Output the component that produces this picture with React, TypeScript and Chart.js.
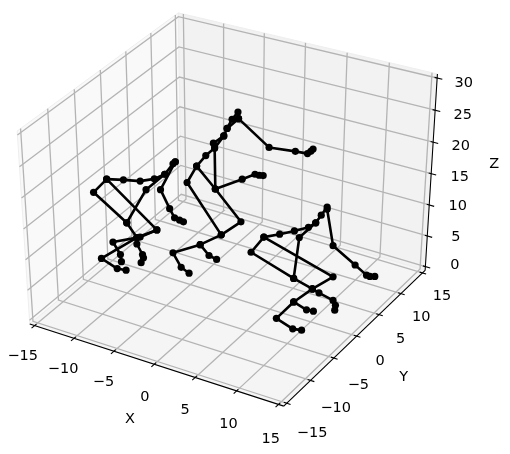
import React, { useEffect, useRef } from "react";
import { Chart, registerables } from "chart.js";

Chart.register(...registerables);

const xyTicks = [-15, -10, -5, 0, 5, 10, 15];
const zTicks = [0, 5, 10, 15, 20, 25, 30];
const xyLabels = ["\u221215", "\u221210", "\u22125", "0", "5", "10", "15"];
const zLabels = ["0", "5", "10", "15", "20", "25", "30"];

// Where each tick label's centre sits.
const xLabelSpots = [[19, 359], [60, 372], [101, 385], [143, 400], [184, 414], [228, 428], [271, 443]];
const yLabelSpots = [[313, 437], [337, 411], [360, 388], [382, 364], [403, 341], [424, 319], [445, 297]];
const zLabelSpots = [[458, 266], [459, 237], [461, 206], [463, 176], [464, 145], [466, 113], [467, 81]];

// Each skeleton is a list of polylines in the projected plane.
const skeletonA: number[][][] = [
  [[104.3, 178.3], [121.3, 179], [138.3, 180.3], [152.7, 178], [163.3, 173.3], [171.7, 162.7], [174, 160.7]],
  [[174, 160.7], [159, 189], [168.3, 208.3], [173.3, 217.7], [178.3, 220], [182.3, 221.7]],
  [[163.3, 173.3], [144.3, 189], [124.7, 222.7], [91, 191.7], [104.3, 178.3], [155.3, 230], [135, 237.7]],
  [[124.7, 222.7], [135, 237.7], [99, 259], [115, 269.3], [124, 271]],
  [[155.3, 230], [138.3, 237.3], [110.7, 242.3], [118.3, 255], [119.3, 262.3]],
  [[135, 237.7], [135, 244.3], [140.7, 255], [141.7, 258.3], [139.3, 263.3]],
];
const skeletonB: number[][][] = [
  [[195.7, 165], [205, 154.3], [214, 146.7], [223.3, 134.3], [226.7, 126.7], [231.7, 117.3], [237.7, 110]],
  [[212.7, 141.7], [223.3, 134.3]],
  [[238.3, 116.7], [226.7, 126.7]],
  [[238.3, 116.7], [269.3, 146], [296, 150], [308.3, 152.3], [311.7, 150], [314, 147.7]],
  [[214, 146.7], [214.7, 188.3], [242, 178.3], [255, 173.3], [259.3, 174.3], [263.3, 174.7]],
  [[214.7, 188.3], [195.7, 165], [186, 181.7], [220.7, 235], [240.7, 221.7], [214.7, 188.3]],
  [[220.7, 235], [199.3, 245], [171.7, 253.3], [180, 268], [188, 274]],
  [[199.3, 245], [208.3, 256], [216, 260]],
];
const skeletonC: number[][][] = [
  [[264, 237.3], [280, 234.3], [295, 231], [309.3, 227.3], [316.7, 222.7], [322.3, 215], [328.3, 206.7]],
  [[328.3, 209], [334.3, 246], [356.7, 265.7], [368.3, 276], [371.7, 277.3], [376.7, 277.3]],
  [[316.7, 222.7], [300, 237.7], [294.3, 279.3], [251, 252.7], [264, 237.3], [334.3, 277.7], [313.3, 290]],
  [[294.3, 279.3], [313.3, 290], [294.3, 303.3], [276.7, 320], [293.3, 330.7], [302.3, 332]],
  [[294.3, 303.3], [307.3, 311.3], [314.3, 312.7]],
  [[313.3, 290], [320, 294], [334.3, 301.7], [336.7, 306.7], [336, 311.7]],
];

const titleX = { text: "X", x: 128, y: 423 };
const titleY = { text: "Y", x: 406, y: 380 };
const titleZ = { text: "Z", x: 498, y: 163 };

const L = 15.625;
const ZLO = -0.625;
const ZHI = 30.625;
const DIST = 14;
const ELEV = 30;
const AZIM = -59.5;
const FLARE = 0.028;
const BACK_LIFT = 0.026;

function rawProject(x: number, y: number, z: number): [number, number] {
  const n = 1.8294640721620434 / Math.sqrt(41);
  const b = [4 * n, 4 * n, 3 * n];
  const p = [((x + 15) / 30) * b[0], ((y + 15) / 30) * b[1], (z / 30) * b[2]];
  const el = (ELEV * Math.PI) / 180;
  const az = (AZIM * Math.PI) / 180;
  const w = [Math.cos(el) * Math.cos(az), Math.cos(el) * Math.sin(az), Math.sin(el)];
  const eye = [b[0] / 2 + DIST * w[0], b[1] / 2 + DIST * w[1], b[2] / 2 + DIST * w[2]];
  const ul = Math.hypot(w[0], w[1]);
  const u = [-w[1] / ul, w[0] / ul, 0];
  const v = [w[1] * u[2] - w[2] * u[1], w[2] * u[0] - w[0] * u[2], w[0] * u[1] - w[1] * u[0]];
  const d = [p[0] - eye[0], p[1] - eye[1], p[2] - eye[2]];
  const dot = (a: number[], c: number[]) => a[0] * c[0] + a[1] * c[1] + a[2] * c[2];
  const depth = -dot(w, d);
  return [dot(u, d) / depth, dot(v, d) / depth];
}

const leftC = rawProject(-L, -L, ZLO);
const rightC = rawProject(L, L, ZLO);
const topC = rawProject(-L, L, ZHI);
const frontC = rawProject(L, -L, ZLO);
const ax = (430.8 - 23.2) / (rightC[0] - leftC[0]);
const bx = 23.2 - ax * leftC[0];
const ay = (409.3 - 9) / (frontC[1] - topC[1]);
const by = 9 - ay * topC[1];
const CX = 227;
const BACK_X = 180;

function P(x: number, y: number, z: number) {
  const r = rawProject(x, y, z);
  const px = ax * r[0] + bx;
  const py = ay * r[1] + by;
  return {
    x: px + (FLARE * (px - CX) * (z - 15)) / 30,
    y: py - (BACK_LIFT * Math.max(px - BACK_X, 0) * z) / 30,
  };
}

const panes = [
  { pts: [P(-L, -L, ZLO), P(-L, L, ZLO), P(-L, L, ZHI), P(-L, -L, ZHI)], fill: "#f9f9f9" },
  { pts: [P(-L, L, ZLO), P(L, L, ZLO), P(L, L, ZHI), P(-L, L, ZHI)], fill: "#f2f2f2" },
  { pts: [P(-L, -L, ZLO), P(L, -L, ZLO), P(L, L, ZLO), P(-L, L, ZLO)], fill: "#f5f5f5" },
];

function gridLines() {
  const out: { x: number; y: number }[][] = [];
  xyTicks.forEach((t) => {
    out.push([P(t, -L, ZLO), P(t, L, ZLO), P(t, L, ZHI)]);
    out.push([P(L, t, ZLO), P(-L, t, ZLO), P(-L, t, ZHI)]);
  });
  zTicks.forEach((t) => out.push([P(-L, -L, t), P(-L, L, t), P(L, L, t)]));
  return out;
}

function axisLines() {
  const out: { x: number; y: number }[][] = [
    [P(-L, -L, ZLO), P(L, -L, ZLO)],
    [P(L, -L, ZLO), P(L, L, ZLO)],
    [P(L, L, ZLO), P(L, L, ZHI)],
  ];
  xyTicks.forEach((t) => {
    out.push([P(t, -L + 0.35, ZLO), P(t, -L - 0.6, ZLO)]);
    out.push([P(L - 0.35, t, ZLO), P(L + 0.45, t, ZLO)]);
  });
  zTicks.forEach((t) => out.push([P(L - 0.3, L, t), P(L + 0.6, L, t)]));
  return out;
}

const backdropPlugin = {
  id: "backdrop",
  beforeDatasetsDraw(chart: any) {
    const { ctx, scales } = chart;
    ctx.save();
    panes.forEach((p) => {
      ctx.beginPath();
      p.pts.forEach((q, i) => {
        const px = scales.x.getPixelForValue(q.x);
        const py = scales.y.getPixelForValue(q.y);
        if (i === 0) ctx.moveTo(px, py);
        else ctx.lineTo(px, py);
      });
      ctx.closePath();
      ctx.fillStyle = p.fill;
      ctx.fill();
      ctx.strokeStyle = "#eeeeee";
      ctx.lineWidth = 1;
      ctx.stroke();
    });
    ctx.restore();
  },
};

const textPlugin = {
  id: "texts",
  afterDraw(chart: any) {
    const { ctx, scales } = chart;
    const put = (s: string, x: number, y: number) =>
      ctx.fillText(s, scales.x.getPixelForValue(x), scales.y.getPixelForValue(y));
    ctx.save();
    ctx.font = '14.5px "DejaVu Sans"';
    ctx.fillStyle = "#000";
    ctx.textAlign = "center";
    ctx.textBaseline = "middle";
    xyLabels.forEach((s, i) => {
      put(s, xLabelSpots[i][0], xLabelSpots[i][1]);
      put(s, yLabelSpots[i][0], yLabelSpots[i][1]);
    });
    zLabels.forEach((s, i) => put(s, zLabelSpots[i][0], zLabelSpots[i][1]));
    [titleX, titleY, titleZ].forEach((t) => put(t.text, t.x, t.y));
    ctx.restore();
  },
};

export default function App() {
  const ref = useRef<HTMLCanvasElement>(null);
  useEffect(() => {
    document.body.style.margin = "0";
    const plain = (pts: { x: number; y: number }[], color: string, width: number) => ({
      data: pts,
      showLine: true,
      borderColor: color,
      borderWidth: width,
      pointRadius: 0,
      pointHoverRadius: 0,
      fill: false,
    });
    const skeletons = [...skeletonA, ...skeletonB, ...skeletonC].map((line) => ({
      data: line.map(([x, y]) => ({ x, y })),
      showLine: true,
      borderColor: "#000",
      backgroundColor: "#000",
      borderWidth: 2.6,
      borderCapStyle: "round",
      borderJoinStyle: "round",
      pointRadius: 3.6,
      pointBorderWidth: 0,
      fill: false,
    }));
    const chart = new Chart(ref.current as HTMLCanvasElement, {
      type: "scatter",
      data: {
        datasets: [
          ...skeletons,
          ...axisLines().map((l) => plain(l, "#000", 1.1)),
          ...gridLines().map((l) => plain(l, "#b4b4b4", 1.3)),
        ] as any,
      },
      options: {
        animation: false,
        responsive: false,
        maintainAspectRatio: false,
        layout: { padding: 0 },
        plugins: { legend: { display: false }, tooltip: { enabled: false } },
        scales: {
          x: { type: "linear", min: 0, max: 510, display: false },
          y: { type: "linear", min: 0, max: 454, reverse: true, display: false },
        },
      },
      plugins: [backdropPlugin, textPlugin],
    });
    return () => chart.destroy();
  }, []);
  return (
    <div style={{ width: 510, height: 454 }}>
      <canvas ref={ref} width={510} height={454} style={{ display: "block" }} />
    </div>
  );
}
